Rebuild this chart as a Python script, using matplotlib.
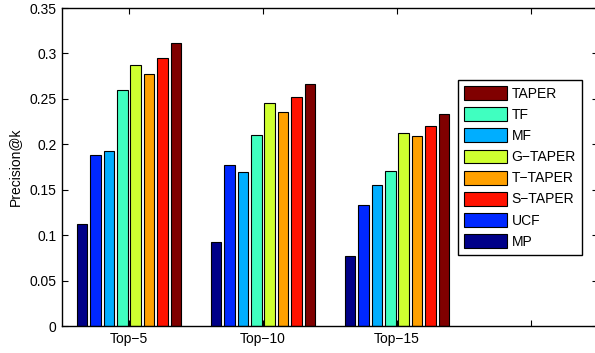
import numpy as np
import matplotlib
matplotlib.use("Agg")
import matplotlib.pyplot as plt

plt.rcParams['font.family'] = ['Liberation Sans', 'DejaVu Sans']

groups = ["Top\u22125", "Top\u221210", "Top\u221215"]
methods = ["MP", "UCF", "MF", "TF", "G\u2212TAPER", "T\u2212TAPER", "S\u2212TAPER", "TAPER"]
colors = ["#000088", "#0028FF", "#00AEFF", "#40FFC0", "#CFFF30", "#FFA000", "#FF1200", "#800000"]

mp = [0.112, 0.093, 0.077]
ucf = [0.188, 0.177, 0.133]
mf = [0.193, 0.169, 0.155]
tf = [0.260, 0.210, 0.171]
g_taper = [0.287, 0.245, 0.212]
t_taper = [0.277, 0.236, 0.209]
s_taper = [0.295, 0.252, 0.220]
taper = [0.311, 0.266, 0.233]
values = [mp, ucf, mf, tf, g_taper, t_taper, s_taper, taper]

# legend order as in the figure
legend_order = ["TAPER", "TF", "MF", "G\u2212TAPER", "T\u2212TAPER", "S\u2212TAPER", "UCF", "MP"]

fig = plt.figure(figsize=(5.95, 3.53), dpi=100)
ax = fig.add_axes([62/595, 1 - 326/353, 536/595, 318/353])

x = np.arange(1, len(groups) + 1)
step = 0.8 / len(methods)
bars = {}
for i, (name, vals, c) in enumerate(zip(methods, values, colors)):
    off = (i - (len(methods) - 1) / 2) * step
    bars[name] = ax.bar(x + off, vals, width=step * 0.8, color=c,
                        edgecolor="black", linewidth=0.8, label=name)

ax.set_xlim(0.5, 4.5)
ax.set_ylim(0, 0.35)
ax.set_xticks([1, 2, 3, 4])
ax.set_xticklabels(groups + [""])
ax.set_yticks(np.arange(0, 0.351, 0.05))
ax.set_yticklabels(["0", "0.05", "0.1", "0.15", "0.2", "0.25", "0.3", "0.35"])
ax.tick_params(direction="in", top=True, right=True, length=4, width=0.8,
               labelsize=10, pad=4)
for s in ax.spines.values():
    s.set_linewidth(1.0)
ax.set_ylabel("Precision@k", fontsize=10, labelpad=5)

leg = ax.legend([bars[n] for n in legend_order], legend_order,
                loc="upper left", bbox_to_anchor=((458 - 62) / 536, (326 - 80) / 318),
                borderaxespad=0, fontsize=10, fancybox=False, framealpha=1,
                handlelength=3.1, handleheight=1.15, labelspacing=0.47,
                handletextpad=0.3, borderpad=0.45, edgecolor="black")
leg.get_frame().set_linewidth(1.0)

fig.savefig("out.png", dpi=100)
